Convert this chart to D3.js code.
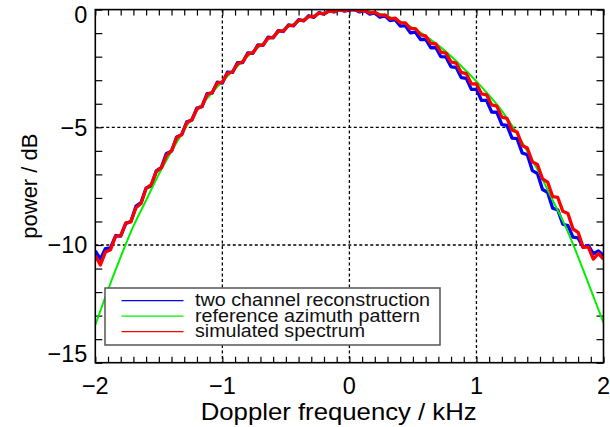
<!DOCTYPE html>
<html><head><meta charset="utf-8">
<script src="https://cdn.jsdelivr.net/npm/d3@7"></script>
<style>
html,body{margin:0;padding:0;background:#fff;}
svg{display:block;font-family:"Liberation Sans",Arial,Helvetica,sans-serif;}
</style></head>
<body><svg id="c" width="610" height="427"></svg>
<script>
// ---- data ----
const freq = [-2,-1.96,-1.92,-1.88,-1.84,-1.8,-1.76,-1.72,-1.68,-1.64,-1.6,-1.56,-1.52,-1.48,-1.44,-1.4,-1.36,-1.32,-1.28,-1.24,-1.2,-1.16,-1.12,-1.08,-1.04,-1,-0.96,-0.92,-0.88,-0.84,-0.8,-0.76,-0.72,-0.68,-0.64,-0.6,-0.56,-0.52,-0.48,-0.44,-0.4,-0.36,-0.32,-0.28,-0.24,-0.2,-0.16,-0.12,-0.08,-0.04,0,
  0.04,0.08,0.12,0.16,0.2,0.24,0.28,0.32,0.36,0.4,0.44,0.48,0.52,0.56,0.6,0.64,0.68,0.72,0.76,0.8,0.84,0.88,0.92,0.96,1,1.04,1.08,1.12,1.16,1.2,1.24,1.28,1.32,1.36,1.4,1.44,1.48,1.52,1.56,1.6,1.64,1.68,1.72,1.76,1.8,1.84,1.88,1.92,1.96,2];
const twoChannel = [-10.25,-10.6,-10.15,-10.12,-9.6,-9.62,-9.08,-9.0,-8.35,-8.2,-7.58,-7.49,-6.85,-6.7,-6.11,-6.02,-5.41,-5.32,-4.77,-4.7,-4.18,-4.12,-3.57,-3.55,-3.08,-3.12,-2.66,-2.67,-2.25,-2.25,-1.84,-1.86,-1.5,-1.52,-1.17,-1.2,-0.89,-0.93,-0.65,-0.69,-0.43,-0.48,-0.26,-0.33,-0.13,-0.19,-0.04,-0.1,0.0,-0.06,-0.02,
  0.0,-0.1,-0.04,-0.19,-0.14,-0.32,-0.26,-0.47,-0.43,-0.7,-0.68,-0.99,-0.96,-1.27,-1.26,-1.62,-1.61,-2.0,-2.01,-2.43,-2.45,-2.89,-2.92,-3.39,-3.39,-3.86,-3.86,-4.35,-4.36,-4.89,-4.92,-5.46,-5.48,-6.09,-6.16,-6.84,-6.96,-7.64,-7.76,-8.44,-8.51,-9.12,-9.18,-9.67,-9.7,-10.1,-10.02,-10.37,-10.25,-10.45];
const simulated = [-10.45,-10.85,-10.3,-10.2,-9.63,-9.6,-9.07,-9.02,-8.42,-8.24,-7.6,-7.43,-6.88,-6.72,-6.19,-6.0,-5.45,-5.3,-4.8,-4.68,-4.22,-4.1,-3.61,-3.52,-3.12,-3.08,-2.71,-2.65,-2.3,-2.22,-1.88,-1.83,-1.54,-1.5,-1.21,-1.18,-0.92,-0.9,-0.68,-0.67,-0.46,-0.46,-0.29,-0.31,-0.15,-0.18,-0.06,-0.09,0.0,-0.05,0.0,
  0.0,-0.07,-0.03,-0.15,-0.11,-0.25,-0.22,-0.39,-0.36,-0.56,-0.56,-0.81,-0.81,-1.07,-1.12,-1.43,-1.46,-1.81,-1.85,-2.22,-2.27,-2.67,-2.72,-3.15,-3.16,-3.58,-3.62,-4.05,-4.1,-4.57,-4.62,-5.12,-5.2,-5.77,-5.88,-6.47,-6.58,-7.19,-7.33,-7.94,-7.98,-8.57,-8.66,-9.32,-9.46,-10.1,-10.08,-10.6,-10.36,-10.6];
const refFreq = [-2,-1.9,-1.8,-1.7,-1.6,-1.5,-1.4,-1.3,-1.2,-1.1,-1,-0.9,-0.8,-0.7,-0.6,-0.5,-0.4,-0.3,-0.2,-0.1,0,0.1,0.2,0.3,0.4,0.5,0.6,0.7,0.8,0.9,1,1.1,1.2,1.3,1.4,1.5,1.6,1.7,1.8,1.9,2];
const refPattern = [-13.4,-11.9,-10.5,-9.2,-8.1,-7.0,-6.02,-5.1,-4.3,-3.65,-3.05,-2.5,-1.98,-1.52,-1.12,-0.78,-0.5,-0.28,-0.12,-0.03,0,-0.03,-0.12,-0.28,-0.5,-0.78,-1.12,-1.52,-1.98,-2.5,-3.05,-3.65,-4.3,-5.1,-6.02,-7.0,-8.1,-9.2,-10.5,-11.9,-13.3];
const xTicks = [-2,-1,0,1,2];
const yTicks = [-15,-10,-5,0];
const legendLabels = ["two channel reconstruction","reference azimuth pattern","simulated spectrum"];
const colors = ["#0000ff","#00f000","#ff0000"];

// ---- layout ----
const svg = d3.select("#c");
const L = 95.3, R = 603.5, T = 9.6, B = 362.7;
const x = d3.scaleLinear().domain([-2,2]).range([L,R]);
const y = d3.scaleLinear().domain([-15,0]).range([B,T]);

svg.append("defs").append("clipPath").attr("id","clip")
  .append("rect").attr("x",L).attr("y",T).attr("width",R-L).attr("height",B-T);

// grid (dashed) at inner major ticks
const grid = svg.append("g");
grid.selectAll("line.gx").data(xTicks.filter(d=>d>-2&&d<2)).join("line")
  .attr("x1",d=>x(d)).attr("x2",d=>x(d)).attr("y1",T).attr("y2",B)
  .attr("stroke","#000").attr("stroke-width",1.3).attr("stroke-dasharray","3,2.5");
grid.selectAll("line.gy").data(yTicks.filter(d=>d>-15&&d<0)).join("line")
  .attr("x1",L).attr("x2",R).attr("y1",d=>y(d)).attr("y2",d=>y(d))
  .attr("stroke","#000").attr("stroke-width",1.3).attr("stroke-dasharray","3,2.5");

// axes with inward ticks
const minorX = d3.range(-20,21).map(v=>v/10);
const minorY = d3.range(-15,1);
const axB = d3.axisBottom(x).tickValues(minorX).tickSize(-6).tickFormat("");
const axT = d3.axisTop(x).tickValues(minorX).tickSize(-6).tickFormat("");
const axL = d3.axisLeft(y).tickValues(minorY).tickSize(-7).tickFormat("");
const axR = d3.axisRight(y).tickValues(minorY).tickSize(-7).tickFormat("");
function style(g){ g.select(".domain").remove(); g.selectAll("line").attr("stroke","#000").attr("stroke-width",1.2); }
svg.append("g").attr("transform",`translate(0,${B})`).call(axB).call(style);
svg.append("g").attr("transform",`translate(0,${T})`).call(axT).call(style);
svg.append("g").attr("transform",`translate(${L},0)`).call(axL).call(style);
svg.append("g").attr("transform",`translate(${R},0)`).call(axR).call(style);

// curves
const plot = svg.append("g").attr("clip-path","url(#clip)");
const lin = d3.line().x(d=>x(d[0])).y(d=>y(d[1]));
const smooth = d3.line().x(d=>x(d[0])).y(d=>y(d[1])).curve(d3.curveMonotoneX);
plot.append("path").datum(freq.map((f,i)=>[f,twoChannel[i]]))
  .attr("d",lin).attr("fill","none").attr("stroke",colors[0]).attr("stroke-width",3.3).attr("stroke-linejoin","round");
plot.append("path").datum(refFreq.map((f,i)=>[f,refPattern[i]]))
  .attr("d",smooth).attr("fill","none").attr("stroke",colors[1]).attr("stroke-width",2);
plot.append("path").datum(freq.map((f,i)=>[f,simulated[i]]))
  .attr("d",lin).attr("fill","none").attr("stroke",colors[2]).attr("stroke-width",3.3).attr("stroke-linejoin","round");

// frame
svg.append("rect").attr("x",L).attr("y",T).attr("width",R-L).attr("height",B-T)
  .attr("fill","none").attr("stroke","#000").attr("stroke-width",1.6);

// tick labels
const fmt = d=>d<0?"\u2212"+Math.abs(d):String(d);
svg.append("g").selectAll("text").data(xTicks).join("text")
  .attr("x",d=>x(d)).attr("y",394).attr("text-anchor","middle")
  .attr("font-size",23.5).attr("fill","#000").text(fmt);
svg.append("g").selectAll("text").data(yTicks).join("text")
  .attr("x",L-8).attr("y",d=>y(d)+(d===0?5:d===-15?-9:0)).attr("dy","0.36em")
  .attr("text-anchor","end").attr("font-size",23.5).attr("fill","#000").text(fmt);

// axis titles
svg.append("text").attr("x",200.7).attr("y",420).attr("font-size",24)
  .attr("textLength",276).attr("lengthAdjust","spacingAndGlyphs").text("Doppler frequency / kHz");
svg.append("text").attr("transform",`translate(37,${(T+B)/2}) rotate(-90)`)
  .attr("text-anchor","middle").attr("font-size",22).text("power / dB");

// legend
const lg = svg.append("g");
lg.append("rect").attr("x",105).attr("y",288).attr("width",335).attr("height",57)
  .attr("fill","#fff").attr("stroke","#555").attr("stroke-width",1.5);
const legendWidths = [235,225,170];
legendLabels.forEach((t,i)=>{
  const yy = 300.7 + i*15.5;
  lg.append("line").attr("x1",121.5).attr("x2",183.5).attr("y1",yy).attr("y2",yy)
    .attr("stroke",colors[i]).attr("stroke-width",1.2);
  lg.append("text").attr("x",195).attr("y",yy+5.5).attr("font-size",17.5).attr("fill","#111")
    .attr("textLength",legendWidths[i]).attr("lengthAdjust","spacingAndGlyphs").text(t);
});
</script></body></html>
